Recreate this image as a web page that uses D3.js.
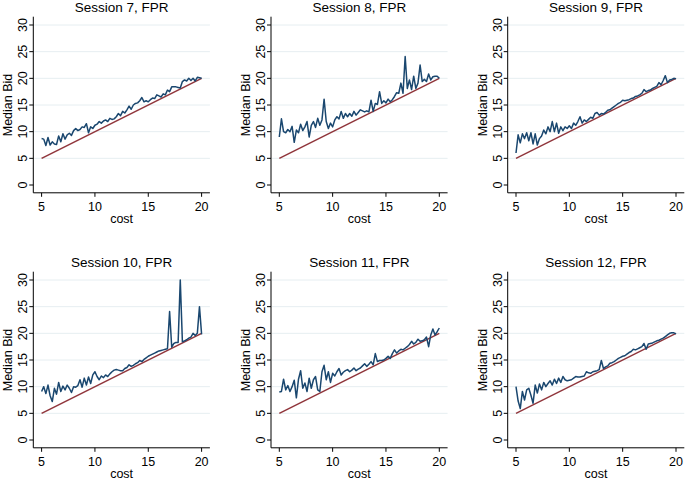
<!DOCTYPE html>
<html>
<head>
<meta charset="utf-8">
<script src="https://cdn.jsdelivr.net/npm/d3@7"></script>
<style>
  html, body { margin: 0; padding: 0; background: #fff; }
  svg { display: block; }
  text { font-family: "Liberation Sans", Arial, sans-serif; fill: #000; }
</style>
</head>
<body>
<svg id="chart" width="685" height="482"></svg>
<script>
// ---- data ----
const sessions = ["Session 7, FPR", "Session 8, FPR", "Session 9, FPR",
                  "Session 10, FPR", "Session 11, FPR", "Session 12, FPR"];
const costStart = 5, costStep = 0.2;   // cost grid 5.0, 5.2, ..., 20.0
const xTicks = [5, 10, 15, 20];
const yTicks = [0, 5, 10, 15, 20, 25, 30];
const gridTicks = [5, 10, 15, 20, 25, 30];
const refCost = [5, 20];               // 45-degree line: bid = cost

const bids7 = [8.7, 8.6, 7.4, 8.9, 7.5, 8.1, 7.7, 7.6, 9.2, 8.1,
  9.6, 8.6, 9.4, 9.7, 9.3, 10.2, 10.6, 10.2, 10.4, 10.9,
  10.8, 11.5, 9.8, 10.9, 10.6, 11.2, 11.4, 11.9, 11.6, 12.0,
  12.2, 11.9, 12.5, 12.3, 12.4, 12.8, 13.4, 13.0, 13.8, 13.5,
  14.1, 14.8, 14.2, 15.0, 15.3, 15.4, 15.8, 16.4, 15.6, 15.8,
  15.6, 16.0, 16.3, 16.2, 16.9, 16.7, 16.5, 17.1, 16.9, 17.8,
  17.5, 18.4, 18.4, 18.4, 18.3, 18.2, 19.4, 19.7, 19.5, 20.0,
  19.6, 20.0, 19.5, 20.2, 20.1, 20.0];
const bids8 = [9.0, 12.4, 10.0, 9.8, 10.4, 10.0, 11.0, 8.0, 10.3, 9.8,
  11.4, 10.2, 10.9, 11.9, 9.0, 11.2, 11.9, 10.8, 12.5, 11.2,
  12.2, 16.1, 11.9, 10.6, 11.6, 10.9, 12.2, 12.8, 12.4, 13.8,
  12.5, 13.4, 12.8, 13.4, 12.9, 13.8, 13.1, 13.6, 14.1, 13.9,
  13.7, 13.9, 13.7, 15.9, 13.8, 15.3, 15.1, 17.5, 15.3, 15.8,
  15.4, 16.1, 15.6, 16.0, 16.6, 17.3, 17.2, 19.1, 17.2, 24.1,
  18.1, 19.7, 17.9, 20.4, 18.1, 19.1, 22.5, 19.4, 19.8, 19.4,
  20.8, 19.7, 20.3, 20.4, 20.4, 20.0];
const bids9 = [6.0, 9.4, 7.9, 9.6, 8.7, 9.8, 8.3, 9.8, 7.7, 9.6,
  7.5, 8.7, 9.2, 10.3, 9.6, 10.9, 10.0, 11.9, 10.0, 11.6,
  9.7, 10.9, 10.2, 10.9, 10.6, 11.1, 10.6, 11.6, 11.2, 11.9,
  12.8, 11.6, 12.2, 11.9, 12.3, 12.7, 12.5, 13.4, 13.6, 13.1,
  13.4, 13.3, 13.6, 14.0, 14.1, 14.4, 14.7, 15.0, 15.3, 15.5,
  15.9, 15.8, 15.9, 16.0, 16.2, 16.3, 16.6, 16.7, 16.9, 17.2,
  17.9, 17.5, 17.7, 17.8, 18.1, 18.3, 18.5, 19.2, 18.8, 19.6,
  20.5, 19.2, 19.7, 19.8, 20.0, 19.9];
const bids10 = [9.1, 10.0, 8.7, 10.3, 8.3, 7.2, 9.7, 8.6, 10.8, 9.1,
  10.1, 9.4, 10.3, 9.7, 8.9, 10.0, 9.9, 10.2, 11.3, 9.9,
  11.6, 10.3, 11.8, 10.6, 12.2, 12.8, 11.9, 11.3, 12.0, 11.7,
  12.2, 11.9, 12.4, 12.8, 13.1, 13.2, 13.1, 13.0, 13.0, 13.4,
  13.6, 14.1, 13.8, 14.0, 14.3, 14.5, 14.9, 14.7, 15.1, 15.4,
  15.7, 15.9, 16.1, 16.3, 16.5, 16.7, 16.8, 16.9, 17.0, 17.1,
  24.1, 17.4, 18.1, 18.3, 18.3, 30.0, 18.4, 18.6, 18.8, 19.1,
  19.3, 20.0, 19.6, 20.0, 25.0, 19.8];
const bids11 = [9.0, 9.1, 11.4, 9.4, 10.2, 9.1, 10.0, 11.2, 7.9, 11.4,
  13.0, 9.7, 10.7, 9.1, 11.6, 9.7, 11.3, 11.9, 9.4, 9.1,
  12.8, 14.0, 11.3, 12.8, 10.8, 12.5, 12.0, 12.8, 13.4, 12.2,
  12.7, 13.0, 13.2, 12.8, 13.1, 13.5, 13.0, 13.3, 13.5, 13.9,
  14.3, 13.8, 14.2, 14.7, 14.1, 16.2, 14.7, 14.9, 14.9, 15.0,
  15.3, 15.7, 15.3, 16.2, 16.9, 16.3, 16.7, 17.0, 16.9, 17.2,
  17.5, 17.9, 18.5, 18.0, 18.3, 18.9, 18.5, 18.6, 18.8, 19.3,
  17.5, 19.7, 20.8, 19.7, 20.3, 21.0];
const bids12 = [10.0, 7.3, 5.9, 9.1, 7.5, 9.4, 9.7, 8.4, 6.9, 10.3,
  8.8, 10.5, 9.4, 10.8, 10.0, 10.6, 11.1, 10.3, 11.4, 10.6,
  11.6, 10.8, 11.9, 11.3, 11.1, 11.2, 11.3, 11.6, 11.9, 11.8,
  11.8, 11.9, 12.0, 12.8, 12.6, 12.5, 12.8, 12.9, 13.0, 13.2,
  14.9, 13.4, 13.7, 13.9, 14.4, 14.5, 14.7, 15.0, 15.3, 15.5,
  15.7, 15.8, 16.1, 16.4, 16.6, 17.0, 16.9, 17.1, 17.3, 17.5,
  18.1, 17.0, 18.0, 18.1, 18.2, 18.4, 18.6, 18.7, 18.9, 19.1,
  19.4, 19.7, 20.0, 20.1, 20.1, 19.9];
const allBids = [bids7, bids8, bids9, bids10, bids11, bids12];

// ---- layout ----
const colAxisX = [33.3, 271, 507.7];
const rowTop = [25, 280];
const plotW = 160, plotH = 160, pad = 8.3;
const blue = "#1a476f", red = "#90353b", gridCol = "#e6eef1";

const svg = d3.select("#chart");

allBids.forEach((bids, k) => {
  const ax = colAxisX[k % 3], top = rowTop[Math.floor(k / 3)];
  const x = d3.scaleLinear().domain([5, 20]).range([ax + pad, ax + pad + plotW]);
  const y = d3.scaleLinear().domain([0, 30]).range([top + plotH, top]);
  const g = svg.append("g");
  const axisY = y(0) + pad - 0.5;
  const xLeft = ax, xRight = x(20) + pad;

  // grid
  g.selectAll(".grid").data(gridTicks).enter().append("line")
    .attr("x1", xLeft + 1).attr("x2", xRight)
    .attr("y1", d => y(d)).attr("y2", d => y(d))
    .attr("stroke", gridCol).attr("stroke-width", 1);

  // reference line
  g.append("path")
    .datum(refCost)
    .attr("d", d3.line().x(d => x(d)).y(d => y(d)))
    .attr("fill", "none").attr("stroke", red).attr("stroke-width", 1.5);

  // bids line
  g.append("path")
    .datum(bids)
    .attr("d", d3.line().x((d, i) => x(costStart + i * costStep)).y(d => y(d)))
    .attr("fill", "none").attr("stroke", blue).attr("stroke-width", 1.5)
    .attr("stroke-linejoin", "round");

  // axis lines
  g.append("line").attr("x1", ax).attr("x2", ax)
    .attr("y1", y(30) - pad).attr("y2", axisY)
    .attr("stroke", "#000").attr("stroke-width", 1);
  g.append("line").attr("x1", ax).attr("x2", xRight)
    .attr("y1", axisY).attr("y2", axisY)
    .attr("stroke", "#000").attr("stroke-width", 1);

  // y ticks
  g.selectAll(".yt").data(yTicks).enter().append("line")
    .attr("x1", ax - 4).attr("x2", ax)
    .attr("y1", d => y(d)).attr("y2", d => y(d))
    .attr("stroke", "#000").attr("stroke-width", 1);
  g.selectAll(".yl").data(yTicks).enter().append("text")
    .attr("x", ax - 6).attr("y", d => y(d))
    .attr("transform", d => `rotate(-90, ${ax - 6}, ${y(d)})`)
    .attr("text-anchor", "middle").attr("font-size", 12.5)
    .text(d => d);

  // x ticks
  g.selectAll(".xt").data(xTicks).enter().append("line")
    .attr("x1", d => x(d)).attr("x2", d => x(d))
    .attr("y1", axisY).attr("y2", axisY + 4)
    .attr("stroke", "#000").attr("stroke-width", 1);
  g.selectAll(".xl").data(xTicks).enter().append("text")
    .attr("x", d => x(d)).attr("y", axisY + 18)
    .attr("text-anchor", "middle").attr("font-size", 12.5)
    .text(d => d);

  // axis titles
  g.append("text")
    .attr("x", x(12.5)).attr("y", axisY + 30)
    .attr("text-anchor", "middle").attr("font-size", 12.5)
    .text("cost");
  g.append("text")
    .attr("x", ax - 21).attr("y", y(15))
    .attr("transform", `rotate(-90, ${ax - 21}, ${y(15)})`)
    .attr("text-anchor", "middle").attr("font-size", 12.5)
    .text("Median Bid");

  // title
  g.append("text")
    .attr("x", (xLeft + xRight) / 2).attr("y", top - 13)
    .attr("text-anchor", "middle").attr("font-size", 13.5)
    .text(sessions[k]);
});
</script>
</body>
</html>
